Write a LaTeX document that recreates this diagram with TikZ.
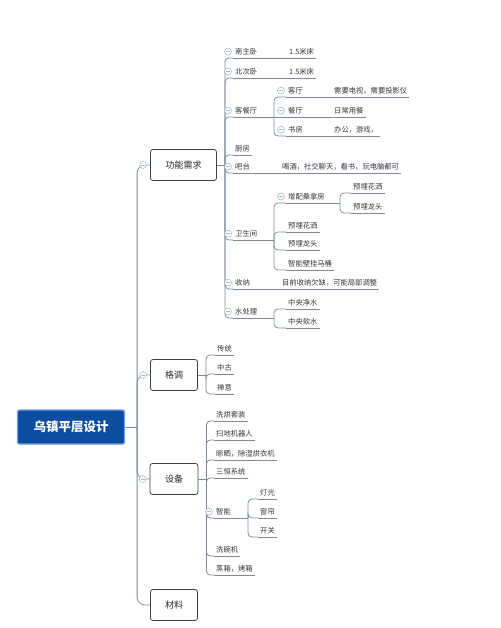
\documentclass[tikz,border=0pt]{standalone}
\usepackage{fontspec}
\setmainfont{Noto Sans CJK SC}
\usepackage{xcolor}
\definecolor{linegray}{HTML}{7D8A98}
\definecolor{foldgray}{HTML}{A9B9CC}
\definecolor{rootblue}{HTML}{0B4DA2}
\definecolor{rootedge}{HTML}{6FA0E0}

\begin{document}
\begin{tikzpicture}[x=1pt,y=-1pt]
\tikzstyle{root} = [rectangle, draw=rootedge, line width=1.2pt, fill=rootblue,
text=white, font=\fontsize{12.5}{14}\selectfont\bfseries, rounded corners=2pt,
minimum width=107pt, minimum height=34pt]
\tikzstyle{block} = [rectangle, draw=black!75, line width=0.8pt, fill=white,
rounded corners=2.5pt, font=\fontsize{9}{11}\selectfont, text=black!85,
minimum height=31pt]
\tikzstyle{leaf} = [anchor=south west, inner xsep=2pt, inner ysep=2.8pt,
font=\fontsize{7.3}{8}\selectfont, text=black!80]
\tikzstyle{fold} = [circle, draw=foldgray, fill=white, line width=0.6pt,
inner sep=0pt, minimum size=7pt,
path picture={\draw[foldgray, line width=0.6pt]
([xshift=-2pt]path picture bounding box.center) --
([xshift=2pt]path picture bounding box.center);}]
\tikzstyle{line} = [draw=linegray, line width=0.8pt, rounded corners=4pt]

\useasboundingbox (0,0) rectangle (500,628);

% root and main topics
\node [root] (root) at (71,427) {乌镇平层设计};
\node [block, minimum width=66pt] (gn) at (183.5,165) {功能需求};
\node [block, minimum width=47pt] (gd) at (174,375) {格调};
\node [block, minimum width=48pt, minimum height=31pt] (sb) at (174,479) {设备};
\node [block, minimum width=47pt] (cl) at (174,605) {材料};

% 功能需求
\node [leaf] (nanzhu) at (233,58) {南主卧};
\node [leaf] (nanzhu-v) at (287,58) {1.5米床};
\node [leaf] (beici) at (233,78) {北次卧};
\node [leaf] (beici-v) at (287,78) {1.5米床};
\node [leaf] (kct) at (233,117) {客餐厅};
\node [leaf] (keting) at (286,97) {客厅};
\node [leaf] (keting-v) at (332,97) {需要电视，需要投影仪};
\node [leaf] (canting) at (286,117) {餐厅};
\node [leaf] (canting-v) at (332,117) {日常用餐};
\node [leaf] (shufang) at (286,136) {书房};
\node [leaf] (shufang-v) at (332,136) {办公，游戏，};
\node [leaf] (chufang) at (233,155) {厨房};
\node [leaf] (batai) at (233,173) {吧台};
\node [leaf] (batai-v) at (280,173) {喝酒，社交聊天，看书，玩电脑都可};
\node [leaf] (wsj) at (233,240) {卫生间};
\node [leaf] (sauna) at (286,203) {增配桑拿房};
\node [leaf] (sauna-a) at (351,193) {预埋花洒};
\node [leaf] (sauna-b) at (351,213) {预埋龙头};
\node [leaf] (wsj-a) at (286,232) {预埋花洒};
\node [leaf] (wsj-b) at (286,250) {预埋龙头};
\node [leaf] (wsj-c) at (286,270) {智能壁挂马桶};
\node [leaf] (shouna) at (233,289) {收纳};
\node [leaf] (shouna-v) at (280,289) {目前收纳欠缺，可能局部调整};
\node [leaf] (shui) at (233,318) {水处理};
\node [leaf] (shui-a) at (286,309) {中央净水};
\node [leaf] (shui-b) at (286,328) {中央软水};

% 格调
\node [leaf] (chuantong) at (215,355) {传统};
\node [leaf] (zhonggu) at (215,374) {中古};
\node [leaf] (chanyi) at (215,394) {禅意};

% 设备
\node [leaf] (xihong) at (214,421) {洗烘套装};
\node [leaf] (saodi) at (214,440) {扫地机器人};
\node [leaf] (liangshai) at (214,460) {晾晒，除湿烘衣机};
\node [leaf] (sanheng) at (214,478) {三恒系统};
\node [leaf] (zhineng) at (214,518) {智能};
\node [leaf] (dengguang) at (258,499) {灯光};
\node [leaf] (chuanglian) at (258,518) {窗帘};
\node [leaf] (kaiguan) at (258,537) {开关};
\node [leaf] (xiwan) at (214,556) {洗碗机};
\node [leaf] (zhengxiang) at (214,575) {蒸箱，烤箱};

% hubs
\coordinate (hub) at ([xshift=12pt]root.east);
\coordinate (gn-hub) at ([xshift=8pt]gn.east);
\coordinate (gd-hub) at ([xshift=8pt]gd.east);
\coordinate (sb-hub) at ([xshift=8pt]sb.east);
\coordinate (kct-hub) at ([xshift=41pt]kct.south west);
\coordinate (wsj-hub) at ([xshift=41pt]wsj.south west);
\coordinate (shui-hub) at ([xshift=41pt]shui.south west);
\coordinate (sauna-hub) at ([xshift=54pt]sauna.south west);
\coordinate (zhineng-hub) at ([xshift=34pt]zhineng.south west);

% trunk
\draw [line] (root.east) -- (hub);
\draw [line, rounded corners=8pt] (hub) |- (gn.west);
\draw [line, rounded corners=8pt] (hub) |- (gd.west);
\draw [line, rounded corners=8pt] (hub) |- (sb.west);
\draw [line, rounded corners=8pt] (hub) |- (cl.west);

% branches
\draw [line] (gn.east) -- (gn-hub);
\foreach \n in {nanzhu, beici, kct, chufang, batai, wsj, shouna, shui}
  \draw [line] (gn-hub) |- (\n.south west);
\draw [line] (gd.east) -- (gd-hub);
\foreach \n in {chuantong, zhonggu, chanyi}
  \draw [line] (gd-hub) |- (\n.south west);
\draw [line] (sb.east) -- (sb-hub);
\foreach \n in {xihong, saodi, liangshai, sanheng, zhineng, xiwan, zhengxiang}
  \draw [line] (sb-hub) |- (\n.south west);

\draw [line] (kct.south west) -- (kct-hub);
\draw [line] (kct-hub) |- (keting.south west);
\draw [line] (kct-hub) -- (canting.south west);
\draw [line] (kct-hub) |- (shufang.south west);
\draw [line] (wsj.south west) -- (wsj-hub);
\foreach \n in {sauna, wsj-a, wsj-b, wsj-c}
  \draw [line] (wsj-hub) |- (\n.south west);
\draw [line] (sauna.south west) -- (sauna-hub);
\foreach \n in {sauna-a, sauna-b}
  \draw [line] (sauna-hub) |- (\n.south west);
\draw [line] (shui.south west) -- (shui-hub);
\foreach \n in {shui-a, shui-b}
  \draw [line] (shui-hub) |- (\n.south west);
\draw [line] (zhineng.south west) -- (zhineng-hub);
\foreach \n in {dengguang, chuanglian, kaiguan}
  \draw [line] (zhineng-hub) |- (\n.south west);

% underlines
\foreach \n/\v in {nanzhu/nanzhu-v, beici/beici-v, keting/keting-v,
  canting/canting-v, shufang/shufang-v, batai/batai-v, shouna/shouna-v}
  \draw [line] (\n.south west) -- (\v.south east);
\foreach \n in {chufang, sauna-a, sauna-b, wsj-a, wsj-b, wsj-c, shui-a, shui-b,
  chuantong, zhonggu, chanyi, xihong, saodi, liangshai, sanheng,
  dengguang, chuanglian, kaiguan, xiwan, zhengxiang}
  \draw [line] (\n.south west) -- (\n.south east);

% fold markers
\node [fold] (f-gn) at ([xshift=-7pt]gn.west) {};
\node [fold] (f-gd) at ([xshift=-7pt]gd.west) {};
\node [fold] (f-sb) at ([xshift=-7pt]sb.west) {};
\foreach \n in {nanzhu, beici, kct, keting, canting, shufang, batai, wsj,
  sauna, shouna, shui, zhineng}
  \node [fold] (f-\n) at ([xshift=-5pt]\n.west) {};

\end{tikzpicture}
\end{document}
